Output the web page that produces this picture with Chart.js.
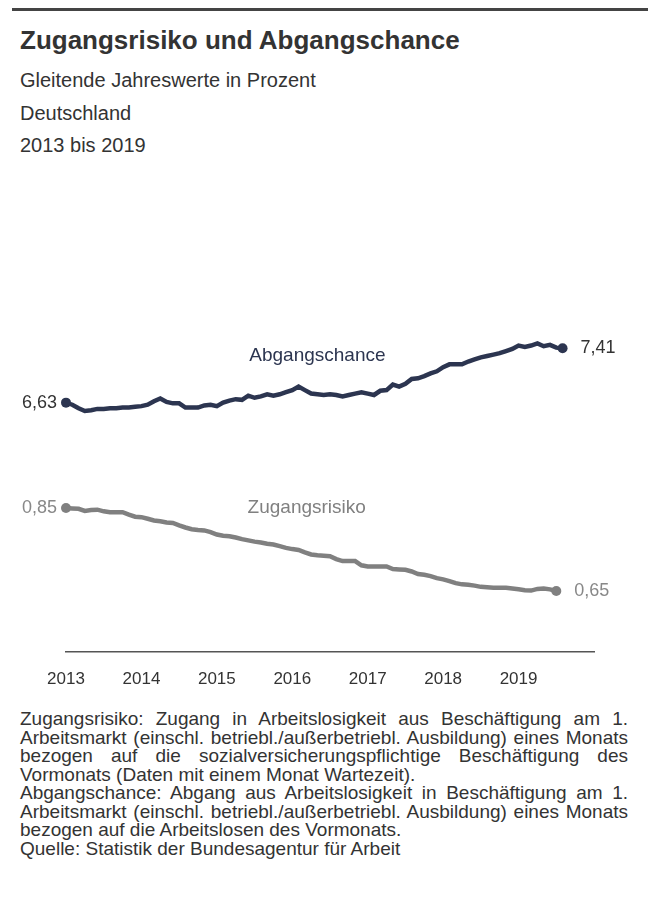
<!DOCTYPE html>
<html lang="de">
<head>
<meta charset="utf-8">
<title>Zugangsrisiko und Abgangschance</title>
<script src="https://cdn.jsdelivr.net/npm/chart.js@4.4.1/dist/chart.umd.min.js"></script>
<style>
  body { margin: 0; background: #fff; font-family: "Liberation Sans", Arial, sans-serif; color: #333; }
  #page { position: relative; width: 648px; height: 906px; overflow: hidden; }
  .rule { position: absolute; left: 12px; right: 0; top: 8px; height: 3px; background: #444; }
  h1 { position: absolute; left: 20px; top: 25px; margin: 0; font-size: 26px; line-height: 30px; font-weight: bold; color: #333; white-space: nowrap; }
  .sub { position: absolute; left: 20px; top: 64px; font-size: 20px; line-height: 32.5px; color: #333; }
  #chartBox { position: absolute; left: 0; top: 170px; width: 648px; height: 530px; }
  .note { position: absolute; left: 20px; top: 710px; width: 608px; font-size: 19px; line-height: 18.5px; color: #333; }
  .note div { white-space: nowrap; }
  .note .j { text-align: justify; text-align-last: justify; }
</style>
</head>
<body>
<div id="page">
  <div class="rule"></div>
  <h1>Zugangsrisiko und Abgangschance</h1>
  <div class="sub">Gleitende Jahreswerte in Prozent<br>Deutschland<br>2013 bis 2019</div>
  <div id="chartBox"><canvas id="chart" width="648" height="530"></canvas></div>
  <div class="note">
    <div class="j">Zugangsrisiko: Zugang in Arbeitslosigkeit aus Beschäftigung am 1.</div>
    <div class="j">Arbeitsmarkt (einschl. betriebl./außerbetriebl. Ausbildung) eines Monats</div>
    <div class="j">bezogen auf die sozialversicherungspflichtige Beschäftigung des</div>
    <div>Vormonats (Daten mit einem Monat Wartezeit).</div>
    <div class="j">Abgangschance: Abgang aus Arbeitslosigkeit in Beschäftigung am 1.</div>
    <div class="j">Arbeitsmarkt (einschl. betriebl./außerbetriebl. Ausbildung) eines Monats</div>
    <div>bezogen auf die Arbeitslosen des Vormonats.</div>
    <div>Quelle: Statistik der Bundesagentur für Arbeit</div>
  </div>
</div>
<script>
// Year tick labels (January of each year)
const yearLabels = ['2013', '2014', '2015', '2016', '2017', '2018', '2019'];

// Monthly categories Jan 2013 .. Jan 2020
const monthLabels = [];
for (let y = 2013; y <= 2019; y++) {
    for (let m = 1; m <= 12; m++) monthLabels.push(m + '/' + y);
}
monthLabels.push('1/2020');

const seriesNames = ['Abgangschance', 'Zugangsrisiko'];

// Abgangschance, Jan 2013 .. Aug 2019
const abgangschance = [
    6.63, 6.60, 6.55, 6.51, 6.52, 6.54, 6.54, 6.55, 6.55, 6.56, 6.56, 6.57,
    6.58, 6.60, 6.65, 6.69, 6.64, 6.62, 6.62, 6.56, 6.56, 6.56, 6.59, 6.60,
    6.58, 6.63, 6.66, 6.68, 6.67, 6.73, 6.70, 6.72, 6.75, 6.73, 6.75, 6.78,
    6.81, 6.86, 6.81, 6.76, 6.75, 6.74, 6.75, 6.74, 6.72, 6.74, 6.76, 6.78,
    6.76, 6.74, 6.80, 6.81, 6.89, 6.86, 6.90, 6.97, 6.98, 7.01, 7.05, 7.08,
    7.14, 7.18, 7.18, 7.18, 7.22, 7.25, 7.28, 7.30, 7.32, 7.34, 7.37, 7.40,
    7.45, 7.43, 7.45, 7.48, 7.44, 7.46, 7.42, 7.41
];

// Zugangsrisiko, Jan 2013 .. Jul 2019
const zugangsrisiko = [
    0.850, 0.849, 0.848, 0.843, 0.845, 0.846, 0.842, 0.840, 0.840, 0.840, 0.834, 0.829,
    0.828, 0.824, 0.820, 0.818, 0.815, 0.814, 0.808, 0.803, 0.799, 0.797, 0.796, 0.792,
    0.786, 0.783, 0.782, 0.779, 0.775, 0.772, 0.769, 0.767, 0.764, 0.762, 0.758, 0.754,
    0.751, 0.749, 0.743, 0.738, 0.736, 0.735, 0.734, 0.727, 0.722, 0.722, 0.722, 0.712,
    0.709, 0.709, 0.709, 0.709, 0.703, 0.702, 0.701, 0.697, 0.691, 0.689, 0.686, 0.681,
    0.678, 0.674, 0.669, 0.666, 0.665, 0.663, 0.660, 0.659, 0.658, 0.658, 0.658, 0.656,
    0.654, 0.652, 0.651, 0.655, 0.656, 0.654, 0.650
];

const navy = '#2c3550';
const grey = '#808080';

function lastIndex(arr) {
    return arr.length - 1;
}

// only the first and last point get a dot
function endDots(ctx) {
    const data = ctx.dataset.data;
    return (ctx.dataIndex === 0 || ctx.dataIndex === lastIndex(data)) ? 5 : 0;
}

function fmt(v) {
    return v.toFixed(2).replace('.', ',');
}

// value labels at both ends + series names on the plot
const lineLabels = {
    id: 'lineLabels',
    afterDatasetsDraw(chart) {
        const ctx = chart.ctx;
        const xs = chart.scales.x;
        ctx.save();
        ctx.textBaseline = 'middle';
        chart.data.datasets.forEach((ds, i) => {
            const ys = chart.scales[ds.yAxisID];
            const first = ds.data[0];
            const lastI = lastIndex(ds.data);
            const last = ds.data[lastI];
            ctx.fillStyle = ds.labelColor;
            ctx.font = '18px "Liberation Sans", Arial, sans-serif';
            ctx.textAlign = 'right';
            ctx.fillText(fmt(first), xs.getPixelForValue(0) - 9, ys.getPixelForValue(first));
            ctx.textAlign = 'left';
            ctx.fillText(fmt(last), xs.getPixelForValue(lastI) + 18, ys.getPixelForValue(last));
        });
        // series names
        ctx.font = '19px "Liberation Sans", Arial, sans-serif';
        ctx.textAlign = 'center';
        ctx.fillStyle = navy;
        ctx.fillText(seriesNames[0], xs.getPixelForValue(40), chart.scales.y.getPixelForValue(7.31));
        ctx.fillStyle = grey;
        ctx.fillText(seriesNames[1], xs.getPixelForValue(38.3), chart.scales.y1.getPixelForValue(0.85));
        ctx.restore();
    }
};

const chartCtx = document.getElementById('chart').getContext('2d');
const riskChart = new Chart(chartCtx, {
    type: 'line',
    data: {
        labels: monthLabels,
        datasets: [{
            label: seriesNames[0],
            data: abgangschance,
            yAxisID: 'y',
            borderColor: navy,
            backgroundColor: navy,
            labelColor: '#333',
            borderWidth: 4.5,
            pointRadius: endDots,
            pointBorderWidth: 0,
            tension: 0
        }, {
            label: seriesNames[1],
            data: zugangsrisiko,
            yAxisID: 'y1',
            borderColor: grey,
            backgroundColor: grey,
            labelColor: '#888',
            borderWidth: 4.5,
            pointRadius: endDots,
            pointBorderWidth: 0,
            tension: 0
        }]
    },
    options: {
        responsive: false,
        animation: false,
        layout: {
            autoPadding: false,
            padding: { left: 66, right: 54, top: 0, bottom: 0 }
        },
        plugins: {
            legend: { display: false },
            tooltip: { enabled: false }
        },
        scales: {
            x: {
                type: 'category',
                offset: false,
                afterFit: (scale) => { scale.height = 48; },
                grid: { display: false, drawTicks: false },
                border: { display: true, color: '#555', width: 1.5 },
                ticks: {
                    autoSkip: false,
                    maxRotation: 0,
                    padding: 17,
                    color: '#333',
                    font: { family: '"Liberation Sans", Arial, sans-serif', size: 17 },
                    callback: (val, idx) => (idx % 12 === 0 && idx / 12 < yearLabels.length) ? yearLabels[idx / 12] : ''
                }
            },
            y: { display: false, min: 3.05, max: 9.97 },
            y1: { display: false, min: 0.503, max: 1.6645 }
        }
    },
    plugins: [lineLabels]
});
</script>
</body>
</html>
